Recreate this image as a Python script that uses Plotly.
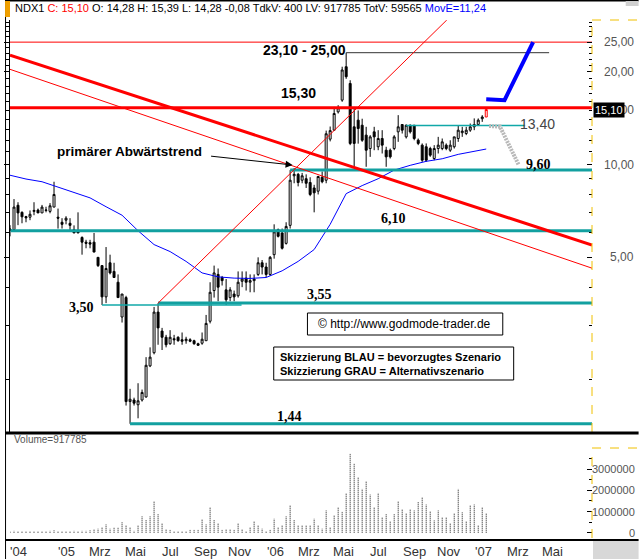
import math
import pandas as pd
import plotly.graph_objects as go

# ---------------- data ----------------
dates = pd.date_range("2004-09-24", periods=120, freq="7D")

open_ = [6.12,6.15,7.38,7.0,6.78,6.75,7.05,7.12,6.97,7.1,7.05,7.28,6.75,6.5,6.6,6.45,6.15,6.1,5.8,5.6,
         5.58,5.6,5.0,4.7,3.72,4.8,4.5,4.15,3.2,3.7,1.7,1.72,1.66,1.72,1.76,2.22,2.45,3.32,2.88,2.75,
         2.62,2.72,2.75,2.7,2.68,2.7,2.68,2.62,2.63,2.68,3.1,3.9,4.4,4.3,3.92,3.7,3.8,3.75,4.18,4.28,
         4.15,4.2,4.4,4.8,4.65,4.4,5.1,6.15,6.0,5.55,6.35,9.2,9.3,8.9,9.0,8.75,8.4,8.2,9.1,8.9,
         12.1,12.94,14.84,16.2,20.8,18.35,13.27,13.95,13.43,12.47,11.28,12.78,11.43,12.16,11.14,11.14,11.28,12.78,13.5,12.31,
         13.43,13.43,12.01,11.57,11.43,11.28,10.47,11.28,11.28,11.57,11.14,11.43,12.16,12.7,12.62,12.94,13.27,13.5,14.1,14.28]
high = [6.36,7.73,7.55,7.05,6.82,7.1,7.55,7.2,7.4,7.3,7.5,8.8,7.2,6.7,6.8,6.7,6.35,7.0,5.85,5.7,
        5.7,6.0,5.0,4.7,5.4,5.1,4.8,4.4,3.8,3.75,1.87,1.75,1.95,1.86,2.37,2.55,3.45,3.55,2.95,2.8,
        2.9,2.8,2.77,2.85,2.76,2.73,2.7,2.64,2.85,3.25,4.15,4.7,4.6,4.35,4.25,4.0,3.9,4.5,4.5,4.5,
        4.4,4.4,5.0,4.9,4.8,5.05,6.4,6.2,6.2,6.5,9.6,9.75,9.4,9.4,9.3,9.1,8.6,9.2,9.5,12.9,
        13.3,15.4,15.6,20.8,23.1,18.8,15.4,15.0,14.1,13.27,12.47,13.27,12.94,12.94,11.43,11.28,12.47,14.48,13.5,13.5,
        13.5,13.43,12.16,11.72,11.72,11.43,11.57,12.31,12.16,11.72,12.0,12.31,13.43,13.27,13.27,13.6,14.13,14.13,14.48,15.39]
low = [5.85,6.1,6.36,6.45,6.5,6.6,6.85,6.97,6.97,7.0,6.95,7.28,6.2,6.2,6.4,6.1,6.0,6.0,5.1,5.35,
       5.35,5.2,4.65,3.5,3.55,4.4,4.3,3.7,3.07,1.65,1.44,1.65,1.5,1.7,1.75,2.2,2.42,2.6,2.5,2.55,
       2.6,2.6,2.66,2.6,2.62,2.65,2.6,2.58,2.6,2.68,3.05,3.7,3.6,4.05,3.5,3.6,3.6,3.7,4.0,3.9,
       3.85,3.85,4.35,4.4,4.3,4.35,4.95,5.8,5.3,5.5,6.2,8.7,8.5,8.7,8.4,7.9,7.0,8.0,8.7,8.7,
       11.9,12.9,14.66,16.0,19.0,11.57,9.84,11.7,11.86,9.84,10.6,11.14,11.14,10.87,9.84,10.47,11.14,11.86,12.62,12.16,
       12.62,12.0,11.57,10.21,10.21,10.6,10.34,10.87,11.14,11.14,11.0,11.28,11.86,12.31,12.47,12.78,12.94,13.43,13.77,14.28]
close = [6.18,7.28,6.97,6.77,6.72,6.9,7.1,6.97,7.28,7.12,7.35,8.0,6.7,6.4,6.7,6.35,6.0,6.0,5.6,5.55,
         5.52,5.2,4.7,3.72,4.6,4.45,4.3,3.7,3.8,1.7,1.73,1.68,1.71,1.82,2.23,2.37,3.32,2.95,2.75,2.6,
         2.75,2.7,2.68,2.67,2.71,2.67,2.62,2.59,2.71,3.05,3.85,4.45,4.0,4.2,3.64,3.92,3.72,4.15,4.25,4.15,
         4.2,4.25,4.8,4.65,4.4,5.0,6.05,5.85,5.35,6.3,8.9,9.3,8.75,9.2,8.7,8.0,8.1,9.15,8.8,12.6,
         12.9,14.66,15.3,20.3,19.3,11.72,11.72,13.1,12.0,11.14,12.31,12.31,12.16,11.57,10.6,10.6,12.31,13.27,12.94,13.43,
         12.78,12.16,11.72,10.34,10.34,10.73,11.28,11.57,11.86,11.28,11.57,12.31,12.94,12.85,12.94,13.27,13.5,13.95,14.28,15.10]
volume_m = [0.08,0.1,0.06,0.06,0.06,0.06,0.07,0.08,0.06,0.06,0.1,0.12,0.08,0.05,0.06,0.08,0.1,0.08,0.1,0.1,0.12,
            0.15,0.2,0.28,0.4,0.2,0.23,0.23,0.5,0.36,0.28,0.1,0.33,0.78,0.6,0.78,1.5,0.88,0.44,0.16,0.13,
            0.06,0.06,0.08,0.08,0.13,0.13,0.13,0.64,0.4,1.2,0.6,0.44,0.13,0.16,0.16,0.13,0.44,0.16,0.05,0.25,
            0.52,0.36,0.2,0.05,0.13,0.67,0.28,0.36,0.78,1.3,0.6,0.33,0.33,0.33,0.33,0.67,0.33,0.2,1.06,0.28,
            0.83,1.19,0.98,1.88,3.72,3.25,2.6,2.08,2.42,1.81,1.19,1.89,0.72,0.88,0.56,0.88,1.48,1.11,0.94,1.11,
            1.06,1.45,1.66,1.34,1.03,0.59,1.06,0.72,0.72,0.47,0.94,2.08,0.97,0.56,1.3,1.34,0.36,1.22,0.917785]
volume = [v * 1e6 for v in volume_m]

# moving average (read every 4th week + last)
ma_idx = [0,4,8,12,16,20,24,28,32,36,40,44,48,52,56,60,64,68,72,76,80,84,88,92,96,100,104,108,112,116,119]
ma_val = [9.24,8.98,8.8,8.45,8.1,7.8,7.3,6.85,6.1,5.5,5.22,4.85,4.45,4.32,4.28,4.27,4.3,4.52,4.85,5.3,
          6.4,8.05,8.55,9.0,9.6,9.95,10.25,10.45,10.8,11.05,11.24]

# levels / drawings
x_left, x_right = "2004-09-24", "2007-07-09"
trend_main_x = [x_left, x_right]; trend_main_y = [22.68, 5.48]
trend_thin_x = [x_left, x_right]; trend_thin_y = [20.4, 4.61]
up_line_x = [dates[37], "2006-10-28"]; up_line_y = [3.55, 29.5]
blue_x = [dates[119], "2007-02-06", "2007-03-28"]; blue_y = [16.3, 16.2, 25.0]
grey_x = ["2007-01-10", "2007-01-29", "2007-03-03"]; grey_y = [13.35, 13.3, 9.96]

teal_thick = [(9.60, dates[70]), (6.10, "2004-09-25"), (3.55, dates[37]), (1.44, dates[30])]
teal_thin = [(3.50, dates[23], "2005-11-03"), (13.40, dates[99], "2007-03-14")]

month_ticks = [("2004-10-01", "'04"), ("2005-01-01", "'05"), ("2005-03-01", "Mrz"), ("2005-05-01", "Mai"),
               ("2005-07-01", "Jul"), ("2005-09-01", "Sep"), ("2005-11-01", "Nov"), ("2006-01-01", "'06"),
               ("2006-03-01", "Mrz"), ("2006-05-01", "Mai"), ("2006-07-01", "Jul"), ("2006-09-01", "Sep"),
               ("2006-11-01", "Nov"), ("2007-01-01", "'07"), ("2007-03-01", "Mrz"), ("2007-05-01", "Mai")]
price_labels = [25, 20, 15, 10, 5]
vol_labels = [3000000, 2000000, 1000000, 0]

# ---------------- geometry helpers ----------------
W, H = 639, 559
ML, MR, MT, MB = 5, 47, 20, 21
PW, PH = W - ML - MR, H - MT - MB
def px(x):  # pixel x -> paper
    return (x - ML) / PW
def py(y):  # pixel y -> paper
    return (H - MB - y) / PH

FONT = "Liberation Sans"
SERIF = "Liberation Serif"

fig = go.Figure()

# candles
fig.add_trace(go.Candlestick(
    x=dates[:-1], open=open_[:-1], high=high[:-1], low=low[:-1], close=close[:-1],
    increasing=dict(line=dict(color="black", width=1), fillcolor="white"),
    decreasing=dict(line=dict(color="black", width=1), fillcolor="black"),
    whiskerwidth=0, showlegend=False, hoverinfo="skip", xaxis="x", yaxis="y"))
fig.add_trace(go.Candlestick(
    x=dates[-1:], open=open_[-1:], high=high[-1:], low=low[-1:], close=close[-1:],
    increasing=dict(line=dict(color="red", width=1), fillcolor="white"),
    decreasing=dict(line=dict(color="red", width=1), fillcolor="white"),
    whiskerwidth=0, showlegend=False, hoverinfo="skip", xaxis="x", yaxis="y"))

# moving average
fig.add_trace(go.Scatter(x=[dates[i] for i in ma_idx], y=ma_val, mode="lines",
                         line=dict(color="#0000ff", width=1), showlegend=False, hoverinfo="skip"))

def line(x, y, color, width, dash="solid"):
    fig.add_trace(go.Scatter(x=x, y=y, mode="lines", line=dict(color=color, width=width, dash=dash),
                             showlegend=False, hoverinfo="skip", xaxis="x", yaxis="y"))

# horizontal levels
line([x_left, x_right], [25.0, 25.0], "#ff0000", 1)
line([x_left, x_right], [15.30, 15.30], "#ff0000", 3)
line([dates[84], "2007-04-25"], [23.10, 23.10], "#333333", 1)
for val, start in teal_thick:
    line([start, x_right], [val, val], "#12a0a0", 3)
for val, start, end in teal_thin:
    line([start, end], [val, val], "#10a8a8", 1.5)

# trend lines
line(trend_main_x, trend_main_y, "#ff0000", 3)
line(trend_thin_x, trend_thin_y, "#ff0000", 1)
line(up_line_x, up_line_y, "#ff0000", 1)

# scenarios
line(grey_x, grey_y, "#b8b8b8", 4, "2px,1px")
line(blue_x, blue_y, "#0000ff", 4)

# volume as dotted sticks
vx, vy = [], []
for d, v in zip(dates, volume):
    vx += [d, d, None]; vy += [0, v, None]
fig.add_trace(go.Scatter(x=vx, y=vy, mode="lines", line=dict(color="#111111", width=1, dash="1px,1px"),
                         showlegend=False, hoverinfo="skip", xaxis="x", yaxis="y2"))

# dummy for left tick axis
fig.add_trace(go.Scatter(x=[dates[0]], y=[5], mode="markers", marker=dict(opacity=0),
                         showlegend=False, hoverinfo="skip", xaxis="x", yaxis="y3"))

price_dom = [py(432), 1]
vol_dom = [0, py(448)]
yr = [math.log10(1.354), math.log10(29.5)]
major = [5, 10, 20, 25]
minor = [v for v in range(2, 30) if v not in major]

fig.update_layout(
    width=W, height=H, margin=dict(l=ML, r=MR, t=MT, b=MB),
    paper_bgcolor="white", plot_bgcolor="white",
    font=dict(family=FONT, size=12, color="black"),
    xaxis=dict(type="date", range=[x_left, x_right], anchor="y2", showticklabels=False,
               showgrid=False, zeroline=False, rangeslider=dict(visible=False),
               showline=False, ticks=""),
    yaxis=dict(type="log", domain=price_dom, range=yr, side="right", showgrid=False, zeroline=False,
               tickmode="array", tickvals=major, showticklabels=False, ticks="inside", ticklen=5,
               tickcolor="black",
               minor=dict(tickmode="array", tickvals=minor, ticks="inside", ticklen=3, tickcolor="black"),
               showline=False),
    yaxis3=dict(type="log", domain=price_dom, range=yr, overlaying="y", side="left", showgrid=False,
                zeroline=False, tickmode="array", tickvals=major, showticklabels=False, ticks="outside",
                ticklen=5, tickcolor="black",
                minor=dict(tickmode="array", tickvals=minor, ticks="outside", ticklen=3, tickcolor="black"),
                showline=True, linecolor="black", linewidth=1, anchor="x"),
    yaxis2=dict(domain=vol_dom, range=[-0.25e6, 4.0e6], side="right", showgrid=False, zeroline=False,
                tickmode="array", tickvals=[0, 1e6, 2e6, 3e6], showticklabels=False, ticks="inside",
                ticklen=5, tickcolor="black",
                minor=dict(tickmode="array", tickvals=[5e5, 1.5e6, 2.5e6, 3.5e6], ticks="inside",
                           ticklen=3, tickcolor="black"),
                showline=False),
    showlegend=False,
)

shapes = []
# right dashed yellow axes
shapes.append(dict(type="line", xref="paper", yref="paper", x0=1, x1=1, y0=price_dom[0], y1=1,
                   line=dict(color="#f0c000", width=1, dash="dash")))
shapes.append(dict(type="line", xref="paper", yref="paper", x0=1, x1=px(W), y0=1, y1=1,
                   line=dict(color="#f0c000", width=1, dash="dash")))
shapes.append(dict(type="line", xref="paper", yref="paper", x0=1, x1=1, y0=py(538), y1=vol_dom[1],
                   line=dict(color="#f0c000", width=1, dash="dash")))
shapes.append(dict(type="line", xref="paper", yref="paper", x0=1, x1=px(W), y0=vol_dom[1], y1=vol_dom[1],
                   line=dict(color="#f0c000", width=1, dash="dash")))
# black separators / frame
shapes.append(dict(type="line", xref="paper", yref="paper", x0=px(0), x1=px(W), y0=py(433), y1=py(433),
                   line=dict(color="black", width=3)))
shapes.append(dict(type="line", xref="paper", yref="paper", x0=px(0), x1=px(W), y0=py(540), y1=py(540),
                   line=dict(color="black", width=2)))
shapes.append(dict(type="line", xref="paper", yref="paper", x0=px(0), x1=px(W), y0=py(0.5), y1=py(0.5),
                   line=dict(color="black", width=2)))
shapes.append(dict(type="line", xref="paper", yref="paper", x0=px(0.5), x1=px(0.5), y0=py(0), y1=py(559),
                   line=dict(color="black", width=1)))
# orange tab and grey corner boxes
shapes.append(dict(type="rect", xref="paper", yref="paper", x0=px(0), x1=px(5), y0=py(17), y1=py(1),
                   fillcolor="#f0a000", line=dict(width=0)))
shapes.append(dict(type="rect", xref="paper", yref="paper", x0=px(593), x1=px(W), y0=py(559), y1=py(541),
                   fillcolor="#d8d8d8", line=dict(width=0)))
shapes.append(dict(type="rect", xref="paper", yref="paper", x0=px(626), x1=px(W), y0=py(6), y1=py(1),
                   fillcolor="#d0d0d0", line=dict(width=0)))
# text boxes
shapes.append(dict(type="rect", xref="paper", yref="paper", x0=px(305), x1=px(502), y0=py(335), y1=py(313),
                   fillcolor="white", line=dict(color="black", width=1)))
shapes.append(dict(type="rect", xref="paper", yref="paper", x0=px(271), x1=px(513), y0=py(380), y1=py(347),
                   fillcolor="white", line=dict(color="black", width=1)))
fig.update_layout(shapes=shapes)

ann = []
# header
ann.append(dict(xref="paper", yref="paper", x=px(8), y=py(8.5), xanchor="left", yanchor="middle",
                showarrow=False, font=dict(family=FONT, size=11, color="black"),
                text="NDX1 <span style='color:#ff0000'>C: 15,10</span> O: 14,28 H: 15,39 L: 14,28 -0,08 "
                     "TdkV: 400 LV: 917785 TotV: 59565 <span style='color:#0000ff'>MovE=11,24</span>"))
# right axis labels
for v in price_labels:
    ann.append(dict(xref="paper", yref="y", x=1, y=math.log10(v), xanchor="right", yanchor="middle",
                    xshift=44, showarrow=False, text=f"{v},00", font=dict(family=FONT, size=12, color="#555555")))
for v in vol_labels:
    ann.append(dict(xref="paper", yref="y2", x=1, y=v, xanchor="right", yanchor="middle",
                    xshift=45, showarrow=False, text=str(v), font=dict(family=FONT, size=11, color="#555555")))
ann.append(dict(xref="paper", yref="y", x=1, y=math.log10(close[-1]), xanchor="left", yanchor="middle",
                xshift=1, showarrow=False, text="15,10", bgcolor="black", borderpad=1,
                font=dict(family=FONT, size=11, color="white")))
# x labels
for d, t in month_ticks:
    if t == "'04":
        ann.append(dict(xref="paper", yref="paper", x=px(3), y=py(551), xanchor="left", yanchor="middle",
                        showarrow=False, text=t, font=dict(family=FONT, size=13, color="#333333")))
    else:
        ann.append(dict(xref="x", yref="paper", x=d, y=py(551), xanchor="center", yanchor="middle",
                        showarrow=False, text=t, font=dict(family=FONT, size=13, color="#333333")))
ann.append(dict(xref="paper", yref="paper", x=px(7), y=py(440), xanchor="left", yanchor="middle",
                showarrow=False, text="Volume=917785", font=dict(family=FONT, size=10, color="#555555")))
# level labels
def lab(x, y, t, size=14, fam=SERIF, color="black", bold=True):
    ann.append(dict(xref="paper", yref="paper", x=px(x), y=py(y), xanchor="center", yanchor="middle",
                    showarrow=False, text=(f"<b>{t}</b>" if bold else t),
                    font=dict(family=fam, size=size, color=color)))
lab(302, 50, "23,10 - 25,00", 14, FONT)
lab(296, 93, "15,30", 14, FONT)
lab(537, 124, "13,40", 14, FONT, "#444444", bold=False)
lab(538, 164, "9,60", 14, SERIF)
lab(392, 218, "6,10", 14, SERIF)
lab(317, 294, "3,55", 14, SERIF)
lab(77, 307, "3,50", 14, SERIF)
lab(287, 416, "1,44", 14, SERIF)
lab(126, 151, "primärer Abwärtstrend", 13.5, FONT)
ann.append(dict(xref="paper", yref="paper", x=px(290), y=py(165), ax=207 - 290, ay=156 - 165,
                axref="pixel", ayref="pixel", showarrow=True, arrowhead=2, arrowsize=1.4, arrowwidth=1,
                arrowcolor="black", text=""))
lab(403, 324, "© http://www.godmode-trader.de", 12, FONT, bold=False)
ann.append(dict(xref="paper", yref="paper", x=px(275), y=py(363.5), xanchor="left", yanchor="middle",
                showarrow=False, align="left",
                text="<b>Skizzierung BLAU = bevorzugtes Szenario<br>Skizzierung GRAU = Alternativszenario</b>",
                font=dict(family=FONT, size=11, color="black")))
fig.update_layout(annotations=ann)

fig.write_html("out.html", config={"displayModeBar": False},
               post_script="document.body.style.margin='0';document.body.style.overflow='hidden';")
